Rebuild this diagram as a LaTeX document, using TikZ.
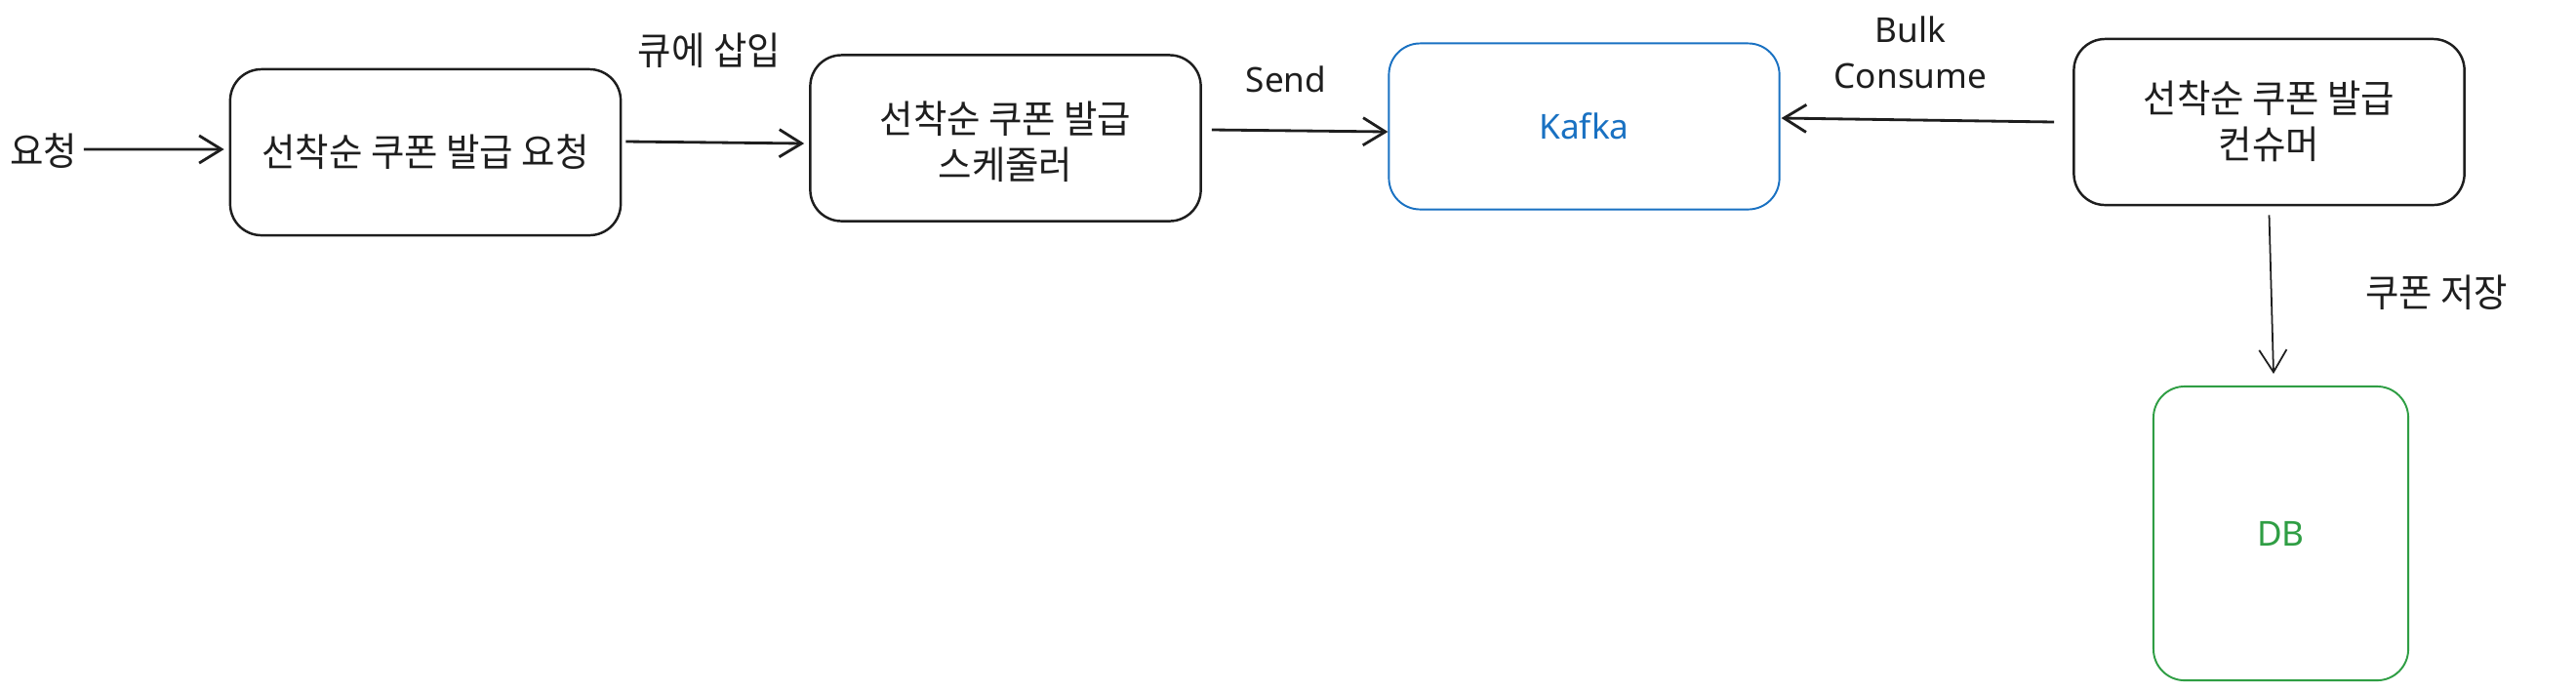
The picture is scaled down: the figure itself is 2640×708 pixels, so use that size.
\documentclass[tikz,border=0pt]{standalone}
\usepackage{fontspec}
\usetikzlibrary{arrows.meta}
\newfontfamily\krfont[FakeStretch=0.95]{Noto Sans CJK KR}
\newfontfamily\latfont{Noto Sans}
\definecolor{ink}{HTML}{1E1E1E}
\definecolor{xblue}{HTML}{1971C2}
\definecolor{xgreen}{HTML}{2F9E44}
\tikzset{
  kr/.style={font=\krfont\fontsize{11.2pt}{13.3pt}\selectfont, text=ink, align=center},
  lat/.style={font=\latfont\fontsize{10pt}{13.3pt}\selectfont, text=ink, align=center},
  boxblack/.style={draw=ink, line width=0.7pt, rounded corners=0.32cm, minimum width=4cm, minimum height=1.7cm, inner sep=0pt},
  boxblue/.style={draw=xblue, line width=0.55pt, rounded corners=0.32cm, minimum width=4cm, minimum height=1.7cm, inner sep=0pt},
  boxgreen/.style={draw=xgreen, line width=0.55pt, rounded corners=0.32cm, minimum width=2.61cm, minimum height=3.01cm, inner sep=0pt},
  conn/.style={draw=ink, line width=0.8pt, -{Straight Barb[length=6.5pt,width=8pt]}},
  connthin/.style={draw=ink, line width=0.5pt, -{Straight Barb[length=6.5pt,width=8pt]}},
}
\begin{document}
\begin{tikzpicture}[x=0.01cm, y=-0.01cm]
\useasboundingbox (0,0) rectangle (2640,708);
\fill[white] (0,0) rectangle (2640,708);

\node[kr] (req) at (45,155) {요청};
\node[boxblack, kr] (b1) at (436,156) {선착순 쿠폰 발급 요청};
\node[boxblack, kr] (b2) at (1030.5,141.5) {};
\node[kr] (b2t) at (1030.5,145) {선착순 쿠폰 발급\\스케줄러};
\node[boxblue, lat, text=xblue] (kafka) at (1623.5,129.5) {Kafka};
\node[boxblack] (cons) at (2325.5,125) {};
\node[kr] (const) at (2325.5,124) {선착순 쿠폰 발급\\컨슈머};
\node[boxgreen, lat, text=xgreen] (db) at (2337.5,546.5) {DB};

\node[kr] (l1) at (727,52) {큐에 삽입};
\node[lat] (l2) at (1318,81) {Send};
\node[lat] (l3) at (1958,53.5) {Bulk\\Consume};
\node[kr] (l4) at (2497,300) {쿠폰 저장};

\draw[conn] ([xshift=-0.06cm,yshift=0.02cm]req.east) -- ([xshift=-0.05cm,yshift=0.03cm]b1.west);
\draw[conn] ([xshift=0.04cm,yshift=0.11cm]b1.east) -- ([xshift=-0.05cm,yshift=-0.055cm]b2.west);
\draw[conn] ([xshift=0.1cm,yshift=0.085cm]b2.east) -- ([yshift=-0.055cm]kafka.west);
\draw[conn] ([xshift=-0.19cm]cons.west) -- ([xshift=0.01cm,yshift=0.085cm]kafka.east);
\draw[connthin] ([yshift=-0.09cm]cons.south) -- ([xshift=-0.075cm,yshift=0.12cm]db.north);
\end{tikzpicture}
\end{document}
